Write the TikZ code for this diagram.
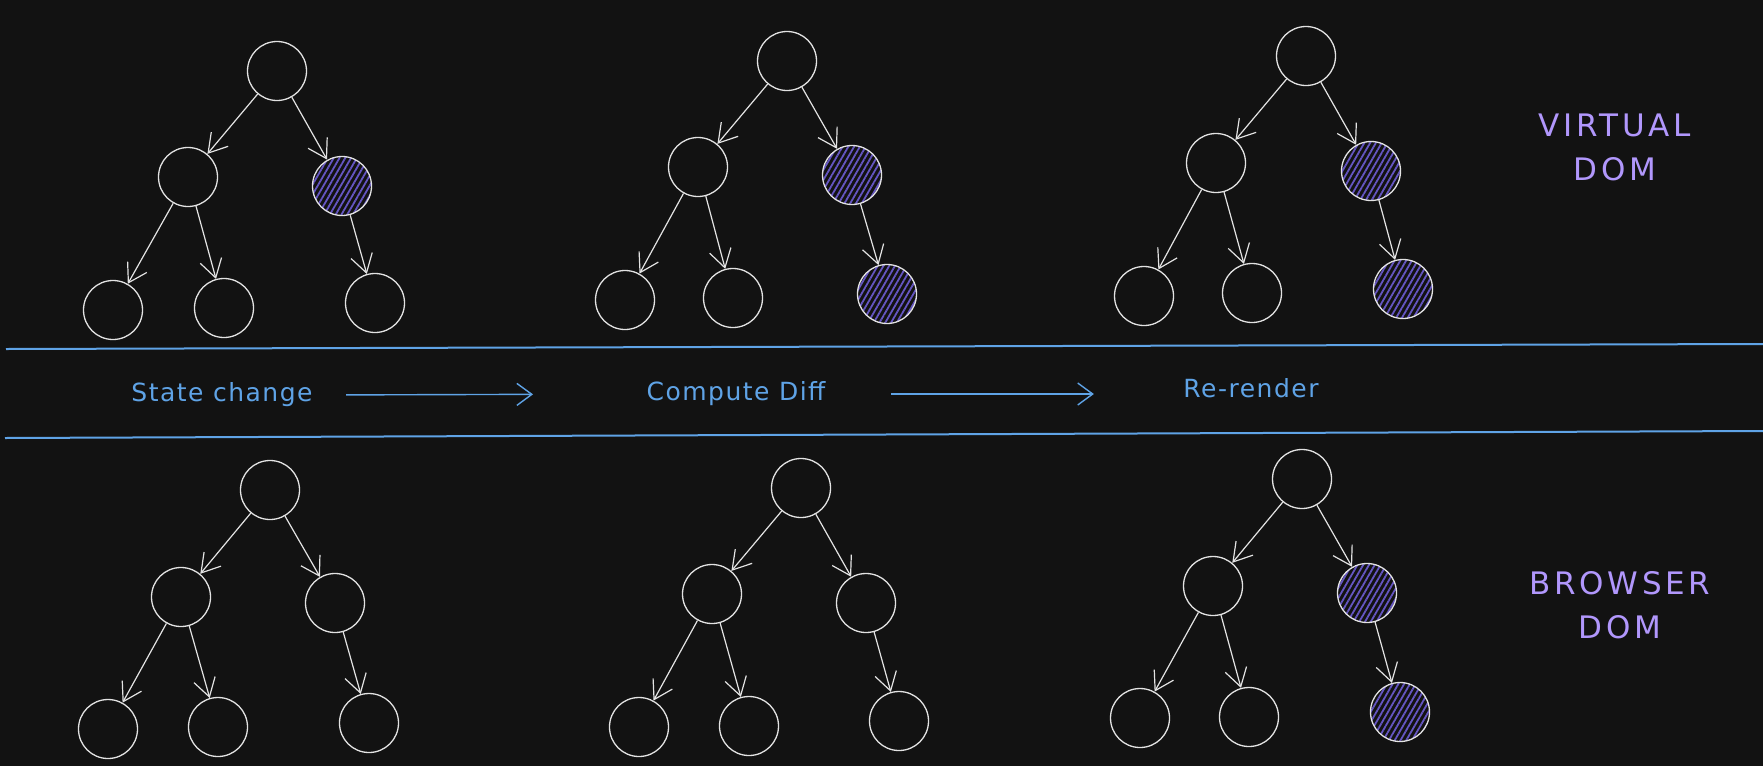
\documentclass[tikz,border=0pt]{standalone}
\usepackage{fontspec}
\setmainfont{DejaVu Sans}
\newfontfamily\sketchfont[LetterSpace=12]{DejaVu Sans}
\newfontfamily\bandfont[LetterSpace=6]{DejaVu Sans}
\usetikzlibrary{arrows.meta, patterns.meta}
\definecolor{bg}{HTML}{121212}
\definecolor{ink}{HTML}{E3E3E3}
\definecolor{hatch}{HTML}{6556C2}
\definecolor{band}{HTML}{5FA3E6}
\definecolor{violet}{HTML}{B197FC}
\tikzstyle{vnode} = [circle, minimum size=59pt, inner sep=0pt, draw=ink, line width=1.3pt]
\tikzstyle{hnode} = [vnode, pattern={Lines[angle=60,distance=5pt,line width=1.8pt]}, pattern color=hatch]
\tikzstyle{arrow} = [draw=ink, line width=1.2pt, -{Straight Barb[length=18pt,width=22pt]}]
\tikzstyle{flow} = [draw=band, line width=1.4pt, -{Straight Barb[length=15pt,width=22pt]}]
\tikzstyle{bandtext} = [text=band, font=\bandfont\fontsize{25}{30}\selectfont]
\tikzstyle{title} = [text=violet, align=center, font=\sketchfont\fontsize{31}{44}\selectfont]

\begin{document}
\begin{tikzpicture}[x=1pt, y=-1pt]
\fill[bg] (0,0) rectangle (1763,766);
\useasboundingbox (0,0) rectangle (1763,766);

% virtual dom, before
\node (v1r) [vnode] at (277,71) {};
\node (v1a) [vnode] at (188,177) {};
\node (v1b) [hnode] at (342,186) {};
\node (v1c) [vnode] at (113,310) {};
\node (v1d) [vnode] at (224,308) {};
\node (v1e) [vnode] at (375,303) {};
% virtual dom, diff
\node (v2r) [vnode] at (787,61) {};
\node (v2a) [vnode] at (698,167) {};
\node (v2b) [hnode] at (852,175) {};
\node (v2c) [vnode] at (625,300) {};
\node (v2d) [vnode] at (733,298) {};
\node (v2e) [hnode] at (887,294) {};
% virtual dom, after
\node (v3r) [vnode] at (1306,56) {};
\node (v3a) [vnode] at (1216,163) {};
\node (v3b) [hnode] at (1371,171) {};
\node (v3c) [vnode] at (1144,296) {};
\node (v3d) [vnode] at (1252,293) {};
\node (v3e) [hnode] at (1403,289) {};

% browser dom
\node (b1r) [vnode] at (270,490) {};
\node (b1a) [vnode] at (181,597) {};
\node (b1b) [vnode] at (335,603) {};
\node (b1c) [vnode] at (108,729) {};
\node (b1d) [vnode] at (218,727) {};
\node (b1e) [vnode] at (369,723) {};
\node (b2r) [vnode] at (801,488) {};
\node (b2a) [vnode] at (712,594) {};
\node (b2b) [vnode] at (866,603) {};
\node (b2c) [vnode] at (639,727) {};
\node (b2d) [vnode] at (749,726) {};
\node (b2e) [vnode] at (899,721) {};
\node (b3r) [vnode] at (1302,479) {};
\node (b3a) [vnode] at (1213,586) {};
\node (b3b) [hnode] at (1367,593) {};
\node (b3c) [vnode] at (1140,718) {};
\node (b3d) [vnode] at (1249,717) {};
\node (b3e) [hnode] at (1400,712) {};

\draw [arrow] (v1r) -- (v1a);
\draw [arrow] (v1r) -- (v1b);
\draw [arrow] (v1a) -- (v1c);
\draw [arrow] (v1a) -- (v1d);
\draw [arrow] (v1b) -- (v1e);
\draw [arrow] (v2r) -- (v2a);
\draw [arrow] (v2r) -- (v2b);
\draw [arrow] (v2a) -- (v2c);
\draw [arrow] (v2a) -- (v2d);
\draw [arrow] (v2b) -- (v2e);
\draw [arrow] (v3r) -- (v3a);
\draw [arrow] (v3r) -- (v3b);
\draw [arrow] (v3a) -- (v3c);
\draw [arrow] (v3a) -- (v3d);
\draw [arrow] (v3b) -- (v3e);

\draw [arrow] (b1r) -- (b1a);
\draw [arrow] (b1r) -- (b1b);
\draw [arrow] (b1a) -- (b1c);
\draw [arrow] (b1a) -- (b1d);
\draw [arrow] (b1b) -- (b1e);
\draw [arrow] (b2r) -- (b2a);
\draw [arrow] (b2r) -- (b2b);
\draw [arrow] (b2a) -- (b2c);
\draw [arrow] (b2a) -- (b2d);
\draw [arrow] (b2b) -- (b2e);
\draw [arrow] (b3r) -- (b3a);
\draw [arrow] (b3r) -- (b3b);
\draw [arrow] (b3a) -- (b3c);
\draw [arrow] (b3a) -- (b3d);
\draw [arrow] (b3b) -- (b3e);

% the band
\draw [band, line width=2pt] (6,349) -- (1763,344);
\draw [band, line width=2pt] (5,438) -- (1763,431);
\node (state) [bandtext] at (222,395) {State change};
\node (diff) [bandtext] at (736,394) {Compute Diff};
\node (render) [bandtext] at (1251,388) {Re-render};
\draw [flow, shorten <=30pt, shorten >=110pt] (state.east) -- (diff.west);
\draw [flow, shorten <=62pt, shorten >=86pt] (diff.east) -- (render.west |- diff.east);

\node (virtual) [title] at (1615,147) {VIRTUAL\\DOM};
\node (browser) [title] at (1620,605) {BROWSER\\DOM};

\end{tikzpicture}
\end{document}
